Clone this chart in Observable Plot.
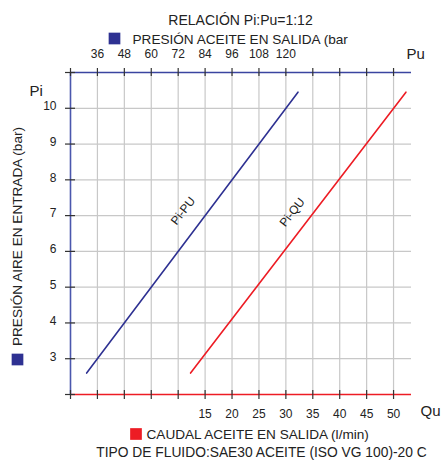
<!DOCTYPE html>
<html>
<head>
<meta charset="utf-8">
<script src="https://cdn.jsdelivr.net/npm/d3@7"></script>
<script src="https://cdn.jsdelivr.net/npm/@observablehq/plot@0.6"></script>
<style>
  html, body { margin: 0; padding: 0; background: #fff; }
</style>
</head>
<body>
<div id="chart"></div>
<script>
// ---- data ----
const title = "RELACIÓN Pi:Pu=1:12";
const topLegend = "PRESIÓN ACEITE EN SALIDA (bar";
const leftLegend = "PRESIÓN AIRE EN ENTRADA (bar)";
const bottomLegend = "CAUDAL ACEITE EN SALIDA (l/min)";
const fluidNote = "TIPO DE FLUIDO:SAE30 ACEITE (ISO VG 100)-20 C";

const puTicks = [36, 48, 60, 72, 84, 96, 108, 120];   // top axis (bar)
const quTicks = [15, 20, 25, 30, 35, 40, 45, 50];      // bottom axis (l/min)
const piTicks = [3, 4, 5, 6, 7, 8, 9, 10];            // left axis (bar)
const quTickMarks = [-10, -5, 0, 5, 10, 15, 20, 25, 30, 35, 40, 45, 50];
const quGrid = [-5, 0, 5, 10, 15, 20, 25, 30, 35, 40, 45, 50];
const piTickMarks = [2, 3, 4, 5, 6, 7, 8, 9, 10, 11];

// Pi-Pu line (Pi in bar, Pu in bar)
const piPuPi = [2.6, 10.45];
const piPuPu = [31.2, 125.4];
// Pi-Qu line (Pi in bar, Qu in l/min)
const piQuPi = [2.6, 10.45];
const piQuQu = [12.3, 52.3];

// line labels
const lineLabels = ["Pi-PU", "Pi-QU"];
const labelPi = [7.13, 7.09];
const labelPuBlue = 74.2;
const labelQuRed = 31.2;

// ---- styling ----
const blue = "#2e3192";
const axisBlue = "#3a44a0";
const red = "#ed1c24";
const grid = "#c8c8c8";
const tickColor = "#333";
const textColor = "#222";

// top (Pu) and bottom (Qu) scales share one x scale: Qu = Pu/2.4 - 20
const puToQu = pu => pu / 2.4 - 20;

const puLine = piPuPi.map((pi, i) => ({pi, x: puToQu(piPuPu[i])}));
const quLine = piQuPi.map((pi, i) => ({pi, x: piQuQu[i]}));
const labels = [
  {text: lineLabels[0], x: puToQu(labelPuBlue), pi: labelPi[0]},
  {text: lineLabels[1], x: labelQuRed, pi: labelPi[1]}
];

const ML = 70, MT = 72;
const T = (txt, x, y, opts = {}) => Plot.text([txt], {
  frameAnchor: "top-left", dx: x - ML, dy: y - MT, text: d => d,
  textAnchor: "middle", lineAnchor: "middle",
  fill: textColor, ...opts
});
const SQ = (x, y, color) => Plot.dot([0], {
  frameAnchor: "top-left", dx: x - ML, dy: y - MT,
  symbol: "square", r: 6.6, fill: color
});

const chart = Plot.plot({
  width: 442,
  height: 460,
  marginLeft: ML,
  marginTop: MT,
  marginRight: 31,
  marginBottom: 66,
  style: {fontFamily: "'Liberation Sans', Arial, sans-serif", background: "#fff"},
  x: {domain: [-10, 160 / 3], axis: null},
  y: {domain: [2, 11], axis: null},
  marks: [
    // grid
    Plot.ruleX(quGrid, {x: d => d, y1: 2, y2: 11, stroke: grid, strokeWidth: 1.2}),
    Plot.ruleY(piTicks, {y: d => d, stroke: grid, strokeWidth: 1.2}),
    // data lines
    Plot.line(puLine, {x: "x", y: "pi", stroke: blue, strokeWidth: 1.6}),
    Plot.line(quLine, {x: "x", y: "pi", stroke: red, strokeWidth: 1.6}),
    // line labels
    Plot.text(labels, {x: "x", y: "pi", text: "text", rotate: -52, fontSize: 12, fill: textColor}),
    // axis lines
    Plot.ruleY([11], {stroke: axisBlue, strokeWidth: 1.6}),
    Plot.ruleY([2], {stroke: red, strokeWidth: 1.6}),
    Plot.ruleX([-10], {y1: 2, y2: 11, stroke: "#4b57ad", strokeWidth: 1.6}),
    // tick marks
    Plot.ruleX(quTickMarks, {x: d => d, y1: 11, y2: 11, insetTop: -4, insetBottom: -4, stroke: tickColor, strokeWidth: 1.2}),
    Plot.ruleX(quTickMarks, {x: d => d, y1: 2, y2: 2, insetTop: -4, insetBottom: -5, stroke: tickColor, strokeWidth: 1.2}),
    Plot.ruleY(piTickMarks, {y: d => d, x1: -10, x2: -10, insetLeft: -5, insetRight: -5, stroke: tickColor, strokeWidth: 1.2}),
    // tick labels
    Plot.text(puTicks, {x: d => puToQu(d), y: 11, dy: -18, text: d => String(d), fontSize: 12, fill: textColor}),
    Plot.text(quTicks, {x: d => d, y: 2, dy: 20, text: d => String(d), fontSize: 12, fill: textColor}),
    Plot.text(piTicks, {x: -10, y: d => d, dx: -14, dy: -2, text: d => String(d), textAnchor: "end", fontSize: 12, fill: textColor}),
    // titles / legends
    T(title, 240, 20, {fontSize: 14}),
    SQ(114, 38, blue),
    T(topLegend, 132, 39, {fontSize: 13.6, textAnchor: "start"}),
    T("Pu", 406, 54, {fontSize: 15, textAnchor: "start"}),
    T("Pi", 29, 91, {fontSize: 15, textAnchor: "start"}),
    T("Qu", 420, 411, {fontSize: 15, textAnchor: "start"}),
    T(leftLegend, 17.5, 236, {fontSize: 13.6, rotate: -90}),
    SQ(17, 359, blue),
    SQ(135.5, 433.5, red),
    T(bottomLegend, 146, 434, {fontSize: 13.6, textAnchor: "start"}),
    T(fluidNote, 261, 452, {fontSize: 13.8})
  ]
});

document.getElementById("chart").appendChild(chart);
</script>
</body>
</html>
